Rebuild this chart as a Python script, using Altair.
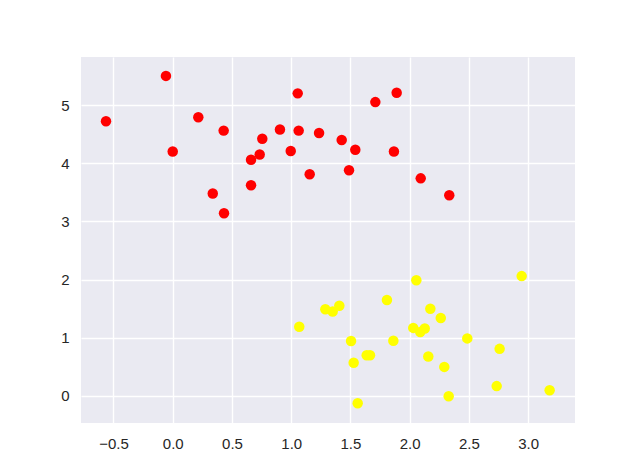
import altair as alt
import pandas as pd

red_x = [-0.057, 1.055, -0.563, 0.216, 0.430, 0.905, 1.063, 1.235, 0.756, 0.0,
         0.734, 0.661, 0.996, 1.156, 0.661, 0.338, 0.433,
         1.890, 1.710, 1.426, 1.541, 1.867, 1.488, 2.093, 2.334]
red_y = [5.50, 5.20, 4.72, 4.79, 4.56, 4.58, 4.56, 4.52, 4.42, 4.20,
         4.15, 4.06, 4.21, 3.81, 3.62, 3.48, 3.14,
         5.21, 5.05, 4.40, 4.23, 4.20, 3.88, 3.74, 3.45]
yel_x = [2.056, 2.945, 1.288, 1.350, 1.406, 1.808, 2.174, 2.262, 1.068, 2.030,
         2.089, 2.127, 1.505, 1.862, 2.486, 2.759, 1.637, 1.665, 1.527, 2.157,
         2.292, 2.734, 3.181, 2.329, 1.561]
yel_y = [1.99, 2.06, 1.49, 1.45, 1.55, 1.65, 1.50, 1.34, 1.19, 1.17,
         1.10, 1.16, 0.945, 0.95, 0.99, 0.81, 0.70, 0.70, 0.57, 0.68,
         0.50, 0.17, 0.10, -0.005, -0.125]
x_ticks = [-0.5, 0.0, 0.5, 1.0, 1.5, 2.0, 2.5, 3.0]
y_ticks = [0, 1, 2, 3, 4, 5]

df = pd.DataFrame({
    "x": red_x + yel_x,
    "y": red_y + yel_y,
    "cluster": ["red"] * len(red_x) + ["yellow"] * len(yel_x),
})

axis_common = dict(
    grid=True, gridColor="white", gridWidth=1.4, domain=False, ticks=False,
    labelFont="Liberation Sans", labelFontSize=15, labelColor="#262626",
    title=None,
)

chart = alt.Chart(df).mark_circle(size=110, opacity=1).encode(
    x=alt.X("x:Q", scale=alt.Scale(domain=[-0.774, 3.395], nice=False, zero=False),
            axis=alt.Axis(values=x_ticks, format=".1f", labelPadding=13, **axis_common)),
    y=alt.Y("y:Q", scale=alt.Scale(domain=[-0.464, 5.825], nice=False, zero=False),
            axis=alt.Axis(values=y_ticks, format="d", labelPadding=12, **axis_common)),
    color=alt.Color("cluster:N", scale=alt.Scale(domain=["red", "yellow"], range=["#FF0000", "#FFFF00"]), legend=None),
).properties(
    width=494, height=366,
    autosize=alt.AutoSizeParams(type="none"),
    padding={"left": 81, "top": 57, "right": 65, "bottom": 53},
    background="white",
).configure_view(fill="#EAEAF2", stroke=None)

chart.save("out.html", embed_options={"renderer": "svg", "actions": False})
